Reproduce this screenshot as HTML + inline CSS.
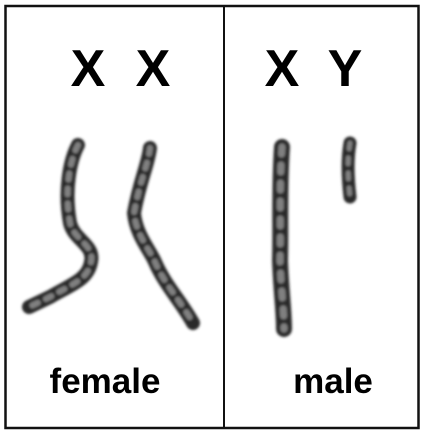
<!DOCTYPE html>
<html><head><meta charset="utf-8"><style>
html,body{margin:0;padding:0;background:#fff;}
svg{display:block;}
text{font-family:"Liberation Sans",Arial,sans-serif;font-weight:bold;fill:#000;}
</style></head><body>
<svg width="426" height="438" viewBox="0 0 426 438">
<defs><filter id="bl" filterUnits="userSpaceOnUse" x="0" y="0" width="426" height="438"><feGaussianBlur stdDeviation="1.2"/></filter></defs>
<rect x="0" y="0" width="426" height="438" fill="#fff"/>
<rect x="5.5" y="6" width="413" height="422" fill="none" stroke="#111" stroke-width="2.5"/>
<line x1="224" y1="6" x2="224" y2="428" stroke="#111" stroke-width="2"/>
<g>
<text x="88" y="86" font-size="52" text-anchor="middle">X</text>
<text x="153" y="86" font-size="52" text-anchor="middle">X</text>
<g filter="url(#bl)">
<path d="M78 145 C70 160 64 190 70 223 C74 240 95 245 91 262 C88 280 70 285 50 297 L29 307" fill="none" stroke="#2c2c2c" stroke-width="14" stroke-linecap="round"/>
<path d="M78 145 C70 160 64 190 70 223 C74 240 95 245 91 262 C88 280 70 285 50 297 L29 307" fill="none" stroke="#808080" stroke-width="6" stroke-dasharray="6 9" stroke-linecap="round"/>
</g>
<g filter="url(#bl)">
<path d="M150 148 C148 165 140 180 134 213 C136 235 150 250 155 262 C165 285 180 300 193 323" fill="none" stroke="#2c2c2c" stroke-width="14" stroke-linecap="round"/>
<path d="M150 148 C148 165 140 180 134 213 C136 235 150 250 155 262 C165 285 180 300 193 323" fill="none" stroke="#808080" stroke-width="6" stroke-dasharray="6 9" stroke-linecap="round"/>
</g>
<text x="105" y="393" font-size="35" text-anchor="middle">female</text>
</g>
<g>
<text x="282" y="86" font-size="52" text-anchor="middle">X</text>
<text x="345" y="86" font-size="52" text-anchor="middle">Y</text>
<g filter="url(#bl)">
<path d="M282 147 C279 190 281 230 280 260 C281 290 284 310 284 329" fill="none" stroke="#2c2c2c" stroke-width="16" stroke-linecap="round"/>
<path d="M282 147 C279 190 281 230 280 260 C281 290 284 310 284 329" fill="none" stroke="#808080" stroke-width="7" stroke-dasharray="7 11" stroke-linecap="round"/>
</g>
<g filter="url(#bl)">
<path d="M350 143 C347 160 348 180 350 197" fill="none" stroke="#2c2c2c" stroke-width="13" stroke-linecap="round"/>
<path d="M350 143 C347 160 348 180 350 197" fill="none" stroke="#808080" stroke-width="5" stroke-dasharray="6 9" stroke-linecap="round"/>
</g>
<text x="333" y="393" font-size="35" text-anchor="middle">male</text>
</g>
</svg>
</body></html>
